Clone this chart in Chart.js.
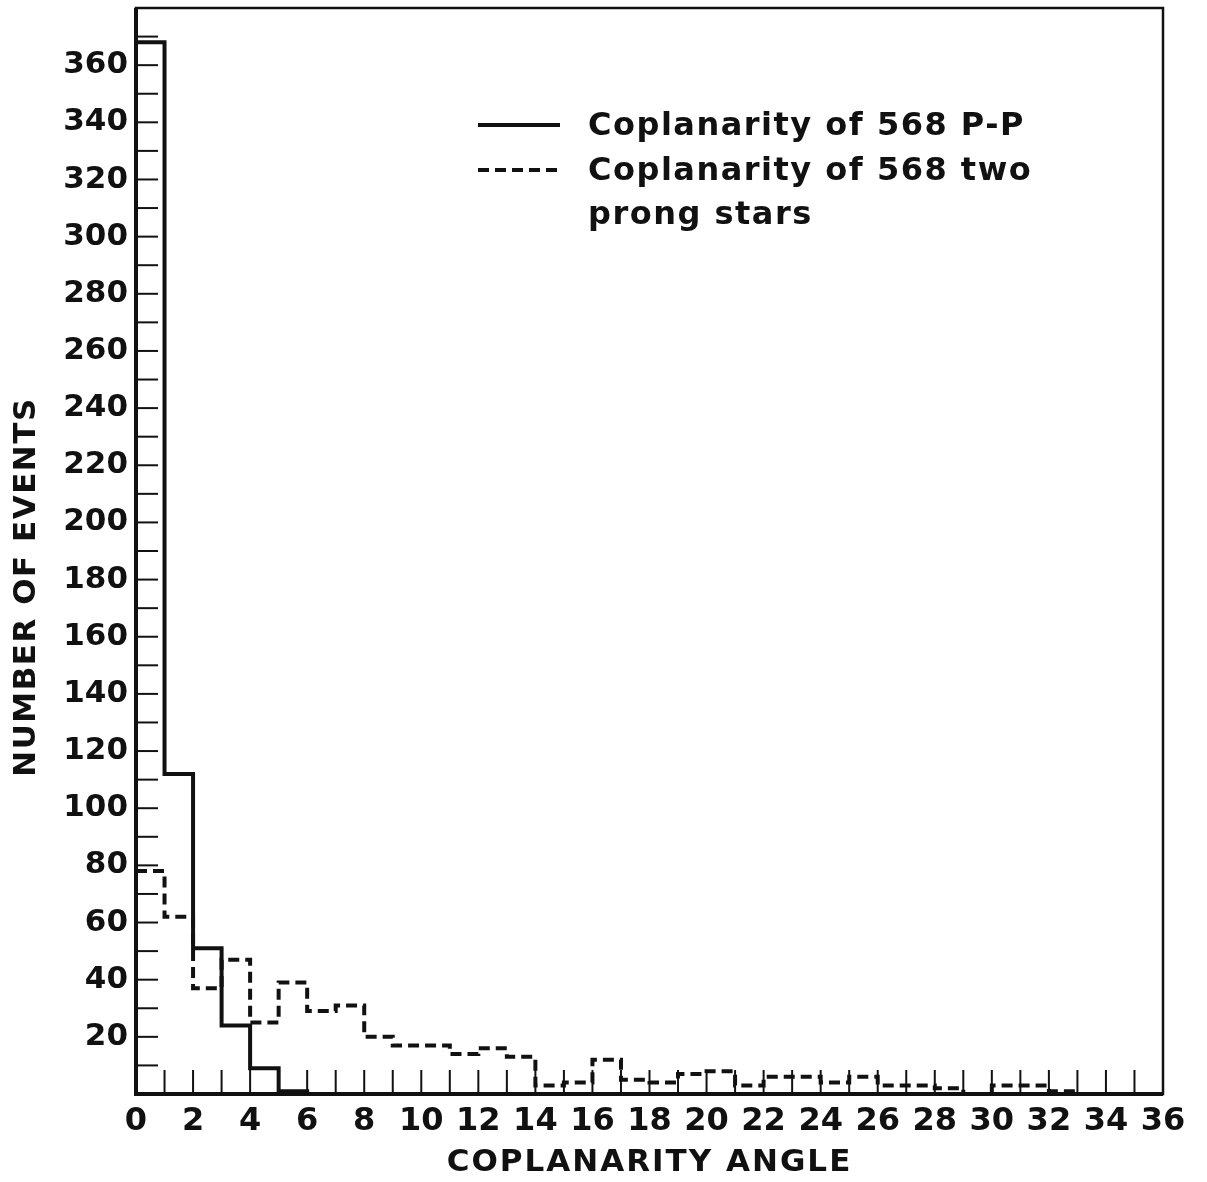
<!DOCTYPE html>
<html>
<head>
<meta charset="utf-8">
<title>Coplanarity angle</title>
<script src="https://cdn.jsdelivr.net/npm/chart.js@4.4.0/dist/chart.umd.min.js"></script>
<style>
  html, body { margin: 0; padding: 0; background: #fff; }
  #wrap { width: 1207px; height: 1182px; }
</style>
</head>
<body>
<div id="wrap"><canvas id="chart" width="1207" height="1182"></canvas></div>
<script>
// one-degree bins, 0 to 36
const binEdges = [0, 1, 2, 3, 4, 5, 6, 7, 8, 9, 10, 11, 12, 13, 14, 15, 16, 17, 18,
    19, 20, 21, 22, 23, 24, 25, 26, 27, 28, 29, 30, 31, 32, 33, 34, 35, 36];

// P-P events (solid)
const ppCounts = [368, 112, 51, 24, 9, 1, 0, 0, 0, 0, 0, 0, 0, 0, 0, 0, 0, 0,
    0, 0, 0, 0, 0, 0, 0, 0, 0, 0, 0, 0, 0, 0, 0, 0, 0, 0];

// two prong stars (dashed)
const starCounts = [78, 62, 37, 47, 25, 39, 29, 31, 20, 17, 17, 14, 16, 13, 3, 4, 12, 5,
    4, 7, 8, 3, 6, 6, 4, 6, 3, 3, 2, 0, 3, 3, 1, 0, 0, 0];

const seriesLabels = [
    ['Coplanarity of 568 P-P'],
    ['Coplanarity of 568 two', 'prong stars']
];

const xLabelValues = [0, 2, 4, 6, 8, 10, 12, 14, 16, 18, 20, 22, 24, 26, 28, 30, 32, 34, 36];
const yLabelValues = [20, 40, 60, 80, 100, 120, 140, 160, 180, 200, 220, 240, 260, 280,
    300, 320, 340, 360];

const ink = '#111111';
const fontFamily = "'DejaVu Sans', 'Liberation Sans', sans-serif";

// histogram as step points: one point per bin start plus the closing edge
function toSteps(counts) {
    const pts = counts.map((c, i) => ({ x: binEdges[i], y: c }));
    pts.push({ x: binEdges[binEdges.length - 1], y: counts[counts.length - 1] });
    return pts;
}

Chart.defaults.font.family = fontFamily;
Chart.defaults.color = ink;

// ticks pointing inward, frame, axis titles and legend
const paperPlugin = {
    id: 'paperPlugin',
    afterDatasetsDraw(chart) {
        const ctx = chart.ctx;
        const area = chart.chartArea;
        const xs = chart.scales.x;
        const ys = chart.scales.y;
        ctx.save();
        ctx.strokeStyle = ink;
        ctx.lineCap = 'butt';

        // x ticks every degree
        ctx.lineWidth = 2;
        xs.ticks.forEach(t => {
            if (t.value <= xs.min || t.value >= xs.max) return;
            const px = xs.getPixelForValue(t.value);
            ctx.beginPath();
            ctx.moveTo(px, area.bottom);
            ctx.lineTo(px, area.bottom - 24);
            ctx.stroke();
        });

        // y ticks every 10 events
        ys.ticks.forEach(t => {
            if (t.value <= ys.min || t.value >= ys.max) return;
            const py = ys.getPixelForValue(t.value);
            ctx.beginPath();
            ctx.moveTo(area.left, py);
            ctx.lineTo(area.left + 22, py);
            ctx.stroke();
        });

        // frame
        ctx.lineWidth = 2.5;
        ctx.strokeRect(area.left, area.top, area.right - area.left, area.bottom - area.top);
        ctx.lineWidth = 4;
        ctx.beginPath();
        ctx.moveTo(area.left, area.top);
        ctx.lineTo(area.left, area.bottom);
        ctx.lineTo(area.right, area.bottom);
        ctx.stroke();

        // axis titles
        ctx.fillStyle = ink;
        ctx.font = 'bold 31px ' + fontFamily;
        ctx.letterSpacing = '2px';
        ctx.textAlign = 'center';
        ctx.textBaseline = 'middle';
        ctx.fillText('COPLANARITY ANGLE', (area.left + area.right) / 2, 1163);
        ctx.save();
        ctx.translate(27, 587);
        ctx.rotate(-Math.PI / 2);
        ctx.letterSpacing = '1.5px';
        ctx.fillText('NUMBER OF EVENTS', 0, 0);
        ctx.restore();

        // legend
        const rows = [127, 172];
        ctx.font = 'bold 32px ' + fontFamily;
        ctx.letterSpacing = '1.5px';
        ctx.textAlign = 'left';
        chart.data.datasets.forEach((ds, i) => {
            const y = rows[i];
            ctx.lineWidth = ds.borderWidth;
            ctx.setLineDash(ds.borderDash || []);
            ctx.beginPath();
            ctx.moveTo(478, y - 2);
            ctx.lineTo(560, y - 2);
            ctx.stroke();
            ctx.setLineDash([]);
            ds.label.forEach((line, j) => {
                ctx.fillText(line, 588, y + j * 44);
            });
        });
        ctx.restore();
    }
};

new Chart(document.getElementById('chart'), {
    type: 'line',
    data: {
        datasets: [{
            label: seriesLabels[0],
            data: toSteps(ppCounts),
            stepped: true,
            borderColor: ink,
            borderWidth: 4,
            pointRadius: 0,
            fill: false
        }, {
            label: seriesLabels[1],
            data: toSteps(starCounts),
            stepped: true,
            borderColor: ink,
            borderWidth: 4,
            borderDash: [11, 6],
            pointRadius: 0,
            fill: false
        }]
    },
    options: {
        responsive: false,
        animation: false,
        layout: {
            padding: { top: 8, right: 44, left: 0, bottom: 0 }
        },
        plugins: {
            legend: { display: false },
            tooltip: { enabled: false }
        },
        scales: {
            x: {
                type: 'linear',
                min: 0,
                max: 36,
                border: { display: false },
                grid: { display: false, drawTicks: false },
                ticks: {
                    stepSize: 1,
                    autoSkip: false,
                    maxRotation: 0,
                    padding: 8,
                    font: { size: 32, weight: 'bold' },
                    callback: v => xLabelValues.includes(v) ? String(v) : ''
                },
                afterFit(scale) {
                    scale.height = 88;
                    scale.paddingLeft = 0;
                    scale.paddingRight = 0;
                }
            },
            y: {
                min: 0,
                max: 380,
                border: { display: false },
                grid: { display: false, drawTicks: false },
                ticks: {
                    stepSize: 10,
                    autoSkip: false,
                    padding: 8,
                    font: { size: 31, weight: 'bold' },
                    callback: v => yLabelValues.includes(v) ? String(v) : ''
                },
                afterFit(scale) {
                    scale.width = 136;
                    scale.paddingTop = 0;
                    scale.paddingBottom = 0;
                }
            }
        }
    },
    plugins: [paperPlugin]
});
</script>
</body>
</html>
